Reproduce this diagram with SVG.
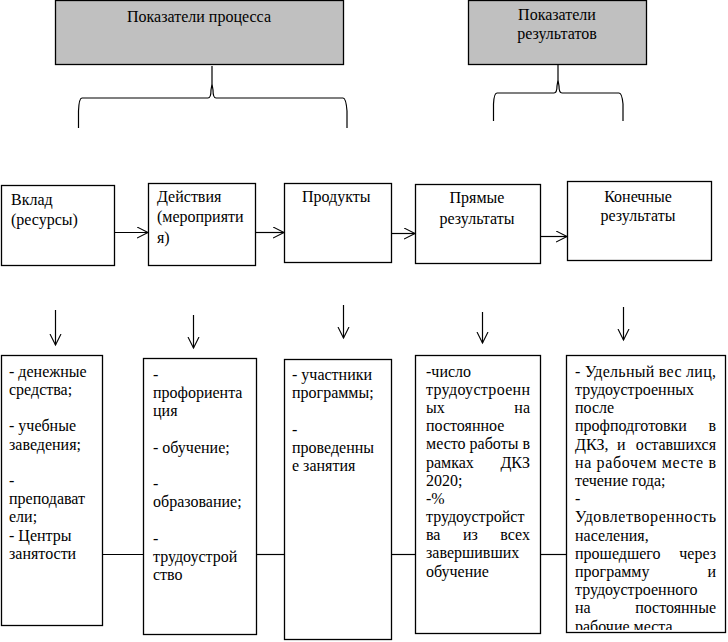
<svg xmlns="http://www.w3.org/2000/svg" width="728" height="642" viewBox="0 0 728 642" font-family="'Liberation Serif', 'Times New Roman', serif" font-size="16">
<style>
text{font-family:'Liberation Serif','Times New Roman',serif;font-size:16px;fill:#000}
.box{fill:#fff;stroke:#000;stroke-width:1.3}
.hdr{fill:#c0c0c0;stroke:#000;stroke-width:1.3}
.ln{fill:none;stroke:#000;stroke-width:1.2}
.m{text-anchor:middle}
.e{text-anchor:end}
</style>
<defs>
<marker id="ah" markerUnits="userSpaceOnUse" markerWidth="14" markerHeight="14" refX="11" refY="6" orient="auto">
<path d="M0,0.5 L11,6 L0,11.5" fill="none" stroke="#000" stroke-width="1.1"/>
</marker>
<clipPath id="c5"><rect x="567" y="356" width="158" height="274"/></clipPath>
</defs>
<rect width="728" height="642" fill="#fff"/>

<g id="hdr-process">
<rect class="hdr" x="55.5" y="0.5" width="288" height="64"/>
<text class="m" x="199" y="22">Показатели процесса</text>
</g>
<g id="hdr-results">
<rect class="hdr" x="468.5" y="0.5" width="178" height="64"/>
<text class="m" x="557" y="20">Показатели</text>
<text class="m" x="557" y="39">результатов</text>
</g>

<g id="braces">
<path class="ln" d="M78.5,128 V111 Q79,98 82,98 H208 Q211,98 211,90 L212,84 M212,66 V84 L213,90 Q213,98 216,98 H343 Q346,98 347,111 V128"/>
<path class="ln" d="M493.5,121 V104 Q494,93 497,93 H554 Q557,93 557,86 L558,80 M558,64 V80 L559,86 Q559,93 562,93 H619 Q622,93 623,104 V121"/>
</g>

<g id="n-input">
<rect class="box" x="1.5" y="185.5" width="113" height="80"/>
<text x="11" y="205">Вклад</text>
<text x="11" y="225">(ресурсы)</text>
</g>
<g id="n-actions">
<rect class="box" x="148.5" y="183.5" width="107" height="82"/>
<text x="157" y="202">Действия</text>
<text x="157" y="222">(мероприяти</text>
<text x="157" y="243">я)</text>
</g>
<g id="n-products">
<rect class="box" x="284.5" y="183.5" width="107" height="79"/>
<text x="302" y="202">Продукты</text>
</g>
<g id="n-direct">
<rect class="box" x="415.5" y="184.5" width="125" height="79"/>
<text class="m" x="477" y="203">Прямые</text>
<text class="m" x="477" y="224">результаты</text>
</g>
<g id="n-final">
<rect class="box" x="567.5" y="181.5" width="144" height="79"/>
<text class="m" x="638" y="202">Конечные</text>
<text class="m" x="638" y="221">результаты</text>
</g>

<g id="connectors">
<line class="ln" x1="115" y1="232.5" x2="148" y2="232.5" marker-end="url(#ah)"/>
<line class="ln" x1="256" y1="232.5" x2="284" y2="232.5" marker-end="url(#ah)"/>
<line class="ln" x1="392" y1="233.5" x2="415" y2="233.5" marker-end="url(#ah)"/>
<line class="ln" x1="541" y1="236.5" x2="567" y2="236.5" marker-end="url(#ah)"/>
<line class="ln" x1="55.5" y1="310" x2="55.5" y2="345" marker-end="url(#ah)"/>
<line class="ln" x1="193.5" y1="315" x2="193.5" y2="348" marker-end="url(#ah)"/>
<line class="ln" x1="343.5" y1="305" x2="343.5" y2="338" marker-end="url(#ah)"/>
<line class="ln" x1="482.5" y1="312" x2="482.5" y2="343" marker-end="url(#ah)"/>
<line class="ln" x1="623.5" y1="307" x2="623.5" y2="340" marker-end="url(#ah)"/>
<line class="ln" x1="102" y1="554.5" x2="143" y2="554.5"/>
<line class="ln" x1="256" y1="554.5" x2="284" y2="554.5"/>
<line class="ln" x1="391" y1="554.5" x2="416" y2="554.5"/>
<line class="ln" x1="540" y1="554.5" x2="566" y2="554.5"/>
</g>

<g id="b-input">
<rect class="box" x="1.5" y="355.5" width="101" height="270"/>
<text x="9" y="377">- денежные</text>
<text x="9" y="395">средства;</text>
<text x="9" y="431">- учебные</text>
<text x="9" y="450">заведения;</text>
<text x="9" y="486">-</text>
<text x="9" y="504">преподават</text>
<text x="9" y="522">ели;</text>
<text x="9" y="541">- Центры</text>
<text x="9" y="559">занятости</text>
</g>
<g id="b-actions">
<rect class="box" x="143.5" y="358.5" width="113" height="276"/>
<text x="153" y="380">-</text>
<text x="153" y="398">профориента</text>
<text x="153" y="416">ция</text>
<text x="153" y="453">- обучение;</text>
<text x="153" y="489">-</text>
<text x="153" y="507">образование;</text>
<text x="153" y="544">-</text>
<text x="153" y="562">трудоустрой</text>
<text x="153" y="580">ство</text>
</g>
<g id="b-products">
<rect class="box" x="284.5" y="359.5" width="107" height="280"/>
<text x="292" y="380">- участники</text>
<text x="292" y="398">программы;</text>
<text x="292" y="435">-</text>
<text x="292" y="453">проведенны</text>
<text x="292" y="471">е занятия</text>
</g>
<g id="b-direct">
<rect class="box" x="415.5" y="355.5" width="125" height="278"/>
<text x="426" y="377">-число</text>
<text x="426" y="395" textLength="104" lengthAdjust="spacing">трудоустроенн</text>
<text x="426" y="413">ых</text><text class="e" x="530" y="413">на</text>
<text x="426" y="431">постоянное</text>
<text x="426" y="449" textLength="104" lengthAdjust="spacing">место работы в</text>
<text x="426" y="468">рамках</text><text class="e" x="530" y="468">ДКЗ</text>
<text x="426" y="486">2020;</text>
<text x="426" y="504">-%</text>
<text x="426" y="522">трудоустройст</text>
<text x="426" y="540">ва</text><text x="463" y="540">из</text><text class="e" x="530" y="540">всех</text>
<text x="426" y="558">завершивших</text>
<text x="426" y="577">обучение</text>
</g>
<g id="b-final">
<rect class="box" x="566.5" y="355.5" width="159" height="277"/>
<g clip-path="url(#c5)">
<text x="575" y="377" textLength="141" lengthAdjust="spacing">- Удельный вес лиц,</text>
<text x="575" y="395">трудоустроенных</text>
<text x="575" y="413">после</text>
<text x="575" y="431">профподготовки</text><text class="e" x="716" y="431">в</text>
<text x="575" y="450">ДКЗ,</text><text x="617" y="450">и</text><text class="e" x="716" y="450">оставшихся</text>
<text x="575" y="468" textLength="141" lengthAdjust="spacing">на рабочем месте в</text>
<text x="575" y="486">течение года;</text>
<text x="575" y="504">-</text>
<text x="575" y="522" textLength="141" lengthAdjust="spacing">Удовлетворенность</text>
<text x="575" y="541">населения,</text>
<text x="575" y="559">прошедшего</text><text class="e" x="716" y="559">через</text>
<text x="575" y="577">программу</text><text class="e" x="716" y="577">и</text>
<text x="575" y="595">трудоустроенного</text>
<text x="575" y="613">на</text><text class="e" x="716" y="613">постоянные</text>
<text x="575" y="632">рабочие места</text>
</g>
</g>
</svg>
